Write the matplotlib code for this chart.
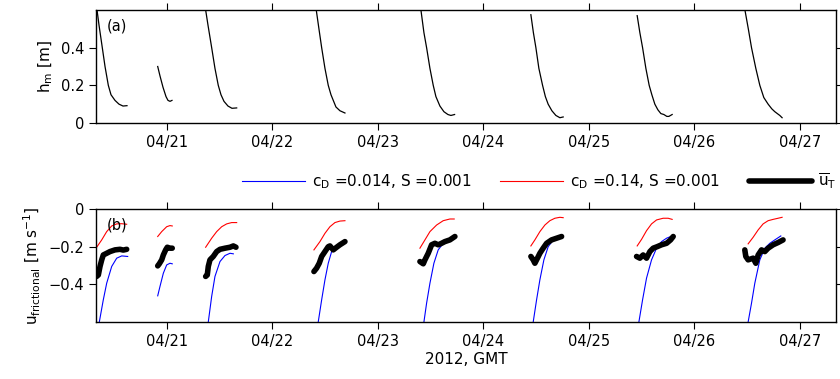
import matplotlib
matplotlib.use('Agg')
import matplotlib.pyplot as plt
import matplotlib.dates as mdates
from matplotlib.ticker import FuncFormatter
import numpy as np
from datetime import datetime

plt.rcParams['font.family'] = ['DejaVu Sans']
plt.rcParams['font.size'] = 10
plt.rcParams['mathtext.default'] = 'regular'

# time in hours after 2012-04-20 00:00 GMT, one list per ebb segment
hm_hours = [
    [8.08, 8.53, 9.28, 9.9, 10.65, 11.26, 12.17, 13.08, 13.99, 14.9],
    [21.89, 22.41, 23.09, 23.78, 24.23, 24.69, 25.14],
    [32.8, 33.33, 34.17, 34.92, 35.67, 36.29, 36.97, 37.88, 38.79, 39.86],
    [57.97, 58.58, 59.2, 59.95, 60.7, 61.32, 61.84, 62.45, 63.36, 64.5],
    [81.79, 82.47, 83.08, 83.84, 84.59, 85.2, 86.11, 87.02, 87.93, 88.61, 89.45],
    [106.81, 107.38, 107.95, 108.63, 109.47, 110.11, 110.74, 111.59, 112.5, 113.41, 114.16],
    [131.0, 131.61, 132.23, 132.98, 133.73, 134.34, 135.02, 135.71, 136.39, 137.07, 137.75, 138.21, 138.96],
    [155.56, 156.29, 157.02, 158.0, 158.91, 159.82, 160.8, 161.64, 162.32, 163.0, 163.46, 163.98],
]
hm_vals = [
    [0.60, 0.52, 0.40, 0.30, 0.20, 0.15, 0.12, 0.10, 0.09, 0.092],
    [0.30, 0.25, 0.19, 0.14, 0.12, 0.115, 0.12],
    [0.60, 0.52, 0.40, 0.29, 0.20, 0.15, 0.115, 0.09, 0.078, 0.08],
    [0.60, 0.50, 0.40, 0.29, 0.20, 0.15, 0.12, 0.085, 0.065, 0.053],
    [0.60, 0.48, 0.40, 0.29, 0.20, 0.14, 0.09, 0.06, 0.045, 0.04, 0.045],
    [0.575, 0.48, 0.40, 0.29, 0.20, 0.14, 0.10, 0.065, 0.04, 0.028, 0.032],
    [0.57, 0.48, 0.40, 0.29, 0.20, 0.15, 0.10, 0.07, 0.05, 0.045, 0.035, 0.035, 0.045],
    [0.595, 0.50, 0.40, 0.29, 0.20, 0.135, 0.10, 0.075, 0.06, 0.048, 0.04, 0.028],
]

# model, c_D = 0.014
blue_hours = [
    [8.6, 9.51, 10.28, 11.42, 12.56, 13.7, 15.06],
    [21.89, 22.41, 23.17, 23.93, 24.68, 25.2],
    [33.4, 34.17, 34.92, 36.06, 37.2, 38.34, 39.1],
    [58.42, 59.2, 59.95, 60.7, 61.47, 62.61, 63.75, 64.5],
    [82.47, 83.08, 83.84, 84.74, 85.72, 86.86, 88.0, 89.14],
    [107.34, 108.11, 108.86, 109.77, 110.75, 111.89, 113.02, 114.16],
    [131.39, 132.23, 133.13, 134.27, 135.41, 136.55, 137.69, 138.96],
    [156.25, 157.02, 157.77, 158.91, 160.05, 161.19, 162.32, 163.69],
]
blue_vals = [
    [-0.6, -0.482, -0.394, -0.305, -0.261, -0.249, -0.252],
    [-0.461, -0.411, -0.341, -0.297, -0.288, -0.291],
    [-0.6, -0.464, -0.358, -0.279, -0.247, -0.235, -0.238],
    [-0.6, -0.482, -0.376, -0.288, -0.226, -0.203, -0.19, -0.182],
    [-0.6, -0.5, -0.394, -0.288, -0.217, -0.182, -0.164, -0.155],
    [-0.6, -0.482, -0.376, -0.27, -0.2, -0.164, -0.146, -0.146],
    [-0.6, -0.482, -0.367, -0.27, -0.208, -0.173, -0.155, -0.143],
    [-0.6, -0.5, -0.394, -0.27, -0.208, -0.182, -0.164, -0.143],
]

# model, c_D = 0.14
red_hours = [
    [8.0, 9.15, 10.28, 11.42, 12.56, 13.7, 14.83],
    [21.89, 22.8, 23.93, 24.68, 25.2],
    [32.8, 34.17, 35.31, 36.45, 37.58, 38.72, 39.86],
    [57.44, 58.81, 59.95, 61.08, 62.22, 63.36, 64.5],
    [81.56, 82.7, 83.84, 85.36, 86.86, 88.38, 89.36],
    [106.81, 107.72, 108.86, 110.0, 111.13, 112.27, 113.41, 114.16],
    [131.0, 132.0, 133.13, 134.27, 135.41, 136.91, 138.05, 138.96],
    [156.25, 157.39, 158.53, 159.66, 160.8, 161.94, 163.07, 163.98],
]
red_vals = [
    [-0.203, -0.164, -0.12, -0.09, -0.079, -0.078, -0.081],
    [-0.146, -0.12, -0.094, -0.088, -0.09],
    [-0.203, -0.155, -0.12, -0.094, -0.079, -0.072, -0.072],
    [-0.217, -0.173, -0.129, -0.094, -0.072, -0.064, -0.062],
    [-0.208, -0.164, -0.12, -0.085, -0.062, -0.053, -0.053],
    [-0.196, -0.164, -0.12, -0.085, -0.062, -0.049, -0.044, -0.046],
    [-0.196, -0.161, -0.115, -0.079, -0.058, -0.049, -0.049, -0.055],
    [-0.185, -0.15, -0.111, -0.079, -0.062, -0.055, -0.049, -0.044],
]

# observed depth-mean u_T
obs_hours = [
    [8.0, 8.38, 8.76, 9.15, 9.51, 10.28, 11.03, 12.17, 13.31, 14.06, 14.83],
    [21.89, 22.25, 22.8, 23.17, 23.7, 24.07, 24.68, 25.2],
    [32.8, 33.17, 33.4, 33.78, 34.53, 35.31, 36.06, 37.2, 38.34, 39.1, 39.7],
    [57.44, 58.05, 58.65, 59.2, 59.95, 60.7, 61.08, 61.84, 62.61, 63.36, 64.5],
    [81.56, 82.32, 82.7, 83.45, 84.22, 84.97, 85.72, 86.49, 87.24, 88.38, 89.52],
    [106.81, 107.34, 107.72, 108.11, 108.86, 109.61, 110.39, 111.52, 112.66, 113.8],
    [130.86, 131.61, 132.36, 133.13, 133.89, 134.64, 135.55, 136.55, 137.69, 138.6, 139.2],
    [155.49, 155.72, 156.25, 157.39, 158.0, 158.53, 159.3, 160.05, 160.8, 161.94, 163.07, 164.2],
]
obs_vals = [
    [-0.358, -0.35, -0.305, -0.27, -0.244, -0.235, -0.226, -0.217, -0.214, -0.218, -0.214],
    [-0.302, -0.291, -0.27, -0.244, -0.217, -0.203, -0.208, -0.208],
    [-0.358, -0.35, -0.305, -0.27, -0.252, -0.226, -0.214, -0.208, -0.203, -0.196, -0.203],
    [-0.332, -0.314, -0.288, -0.252, -0.226, -0.2, -0.196, -0.217, -0.203, -0.19, -0.173],
    [-0.279, -0.291, -0.27, -0.235, -0.19, -0.182, -0.19, -0.182, -0.173, -0.164, -0.146],
    [-0.252, -0.27, -0.288, -0.27, -0.235, -0.208, -0.182, -0.164, -0.155, -0.146],
    [-0.252, -0.261, -0.244, -0.261, -0.226, -0.208, -0.2, -0.19, -0.182, -0.164, -0.146],
    [-0.217, -0.252, -0.27, -0.261, -0.288, -0.244, -0.217, -0.226, -0.208, -0.19, -0.178, -0.164],
]

t0 = mdates.date2num(datetime(2012, 4, 20))


def tnum(hours):
    return t0 + np.asarray(hours) / 24.0


def fmt(v, pos):
    return ('%g' % v).replace('-', '\u2212')


fig = plt.figure(figsize=(8.4, 3.79), dpi=100)
ax1 = fig.add_axes([0.1143, 0.6755, 0.8807, 0.2981])
ax2 = fig.add_axes([0.1143, 0.1504, 0.8807, 0.2981])

for h, v in zip(hm_hours, hm_vals):
    ax1.plot(tnum(h), v, color='k', lw=0.9)

for i in range(len(obs_hours)):
    lb = ax2.plot(tnum(blue_hours[i]), blue_vals[i], color='b', lw=0.8)
    lr = ax2.plot(tnum(red_hours[i]), red_vals[i], color='r', lw=0.8)
    lk = ax2.plot(tnum(obs_hours[i]), obs_vals[i], color='k', lw=4,
                  solid_capstyle='round', solid_joinstyle='round')

xlim = (tnum(7.85), tnum(176.2))
for ax in (ax1, ax2):
    ax.set_xlim(*xlim)
    ax.xaxis.set_major_locator(mdates.DayLocator())
    ax.xaxis.set_major_formatter(mdates.DateFormatter('%m/%d'))
    ax.yaxis.set_major_formatter(FuncFormatter(fmt))
    ax.tick_params(direction='out', length=5, top=True, right=True, labelsize=10.5)
    for s in ax.spines.values():
        s.set_linewidth(1.0)

ax1.set_ylim(0, 0.6)
ax1.set_yticks([0, 0.2, 0.4])
ax1.set_ylabel('h$_m$ [m]', fontsize=11)
ax1.text(0.015, 0.86, '(a)', transform=ax1.transAxes, va='center', fontsize=10.5)

ax2.set_ylim(-0.6, 0)
ax2.set_yticks([-0.4, -0.2, 0])
ax2.set_ylabel('u$_{frictional}$ [m s$^{-1}$]', fontsize=11)
ax2.text(0.015, 0.86, '(b)', transform=ax2.transAxes, va='center', fontsize=10.5)
ax2.set_xlabel('2012, GMT', fontsize=11, labelpad=2)

fig.align_ylabels([ax1, ax2])

fig.legend([lb[0], lr[0], lk[0]],
           ['c$_D$ =0.014, S =0.001', 'c$_D$ =0.14, S =0.001', r'$\overline{u}_T$'],
           loc='center left', bbox_to_anchor=(0.281, 0.5224), ncol=3,
           frameon=False, fontsize=11, handlelength=4.1, handletextpad=0.45,
           columnspacing=1.9, borderaxespad=0)

fig.savefig('out.png', dpi=100)
